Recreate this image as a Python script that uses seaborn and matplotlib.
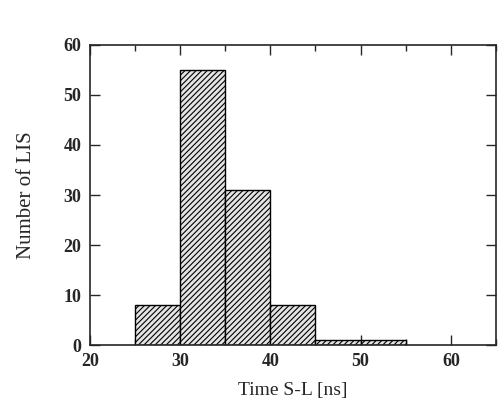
import numpy as np
import pandas as pd
import matplotlib
matplotlib.use("Agg")
import matplotlib.pyplot as plt
import seaborn as sns

# histogram
bin_left = [25, 30, 35, 40, 45, 50]
counts = [8, 55, 31, 8, 1, 1]
bin_edges = [25, 30, 35, 40, 45, 50, 55]
x_ticks = [20, 30, 40, 50, 60]
y_ticks = [0, 10, 20, 30, 40, 50, 60]

sns.set_style("ticks")
plt.rcParams["font.family"] = ["Liberation Serif", "DejaVu Serif"]
plt.rcParams["hatch.color"] = "#333333"
plt.rcParams["hatch.linewidth"] = 0.8

df = pd.DataFrame({"time": bin_left, "n": counts})

fig = plt.figure(figsize=(4.99, 4.05), dpi=100)
ax = fig.add_axes([0.180, 0.148, 0.814, 0.741])

sns.histplot(data=df, x="time", weights="n", bins=bin_edges, ax=ax,
             color="#e4e4e4", alpha=1, edgecolor="black", linewidth=1.0)
for p in ax.patches:
    p.set_hatch("//////")

ax.set_xlim(20, 65)
ax.set_ylim(0, 60)
ax.set_xticks(x_ticks)
ax.set_xticks(np.arange(20, 66, 5), minor=True)
ax.set_yticks(y_ticks)
ax.tick_params(direction="in", top=True, right=True, length=7, width=1,
               labelsize=13, pad=6)
ax.tick_params(which="minor", direction="in", top=True, length=4, width=1)
for lab in ax.get_xticklabels() + ax.get_yticklabels():
    lab.set_fontweight("bold")
for s in ax.spines.values():
    s.set_linewidth(1.2)

ax.set_xlabel("Time S-L [ns]", fontsize=14, labelpad=8)
ax.set_ylabel("Number of LIS", fontsize=15, labelpad=20)

fig.savefig("out.png", dpi=100)
